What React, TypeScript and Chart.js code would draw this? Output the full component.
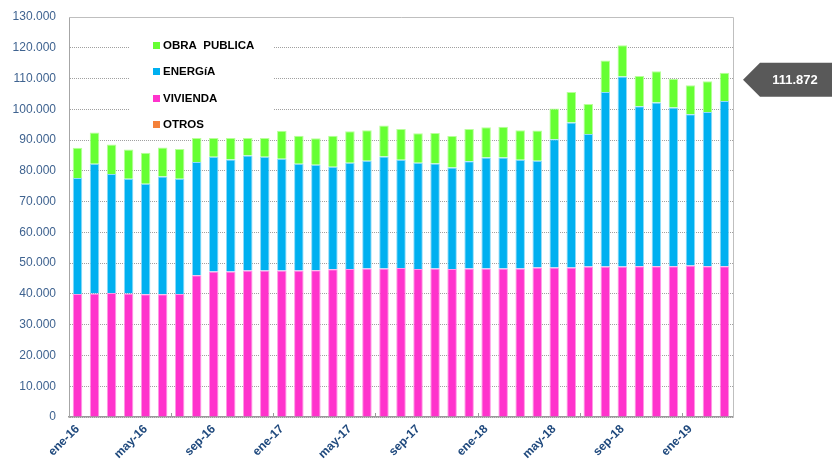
import { useEffect, useRef } from "react";
import { Chart, registerables } from "chart.js";

Chart.register(...registerables);

const categories = [
  "ene-16", "feb-16", "mar-16", "abr-16", "may-16", "jun-16", "jul-16", "ago-16", "sep-16", "oct-16", "nov-16", "dic-16",
  "ene-17", "feb-17", "mar-17", "abr-17", "may-17", "jun-17", "jul-17", "ago-17", "sep-17", "oct-17", "nov-17", "dic-17",
  "ene-18", "feb-18", "mar-18", "abr-18", "may-18", "jun-18", "jul-18", "ago-18", "sep-18", "oct-18", "nov-18", "dic-18",
  "ene-19", "feb-19", "mar-19",
];

const otros = [
  0, 0, 0, 0, 0, 0, 0, 0, 0, 0, 0, 0, 0, 0, 0, 0, 0, 0, 0, 0,
  0, 0, 0, 0, 0, 0, 0, 0, 0, 0, 0, 0, 0, 0, 0, 0, 0, 0, 0,
];

const vivienda = [
  40000, 40100, 40300, 40100, 39900, 39900, 40000, 46100, 47300, 47300,
  47600, 47600, 47600, 47600, 47700, 48000, 48100, 48300, 48300, 48400,
  48100, 48300, 48100, 48300, 48300, 48300, 48300, 48600, 48600, 48600,
  48900, 48900, 48900, 49000, 49000, 49000, 49200, 49000, 49000,
];

const energia = [
  37700, 42200, 38700, 37300, 35900, 38300, 37400, 36800, 37300, 36400,
  37400, 37000, 36300, 34700, 34300, 33300, 34500, 35000, 36400, 35200,
  34500, 34100, 33000, 34800, 36000, 36000, 35300, 34700, 41700, 47100,
  43100, 56700, 61800, 52000, 53200, 51600, 49200, 50100, 53700,
];

const obraPublica = [
  9800, 10200, 9600, 9500, 10100, 9400, 9700, 7800, 6100, 7000,
  5700, 6100, 9100, 9100, 8600, 10100, 10300, 9900, 10000, 10000,
  9600, 9900, 10200, 10500, 9900, 10000, 9600, 9800, 10000, 9900,
  9700, 10300, 10100, 9800, 10200, 9300, 9400, 10000, 9172,
];

const yMax = 130000;
const yStep = 10000;
const labelEvery = 4;
const tickMarkEvery = 6;

const fmt = (n: number) =>
  Math.round(n).toString().replace(/\B(?=(\d{3})+(?!\d))/g, ".");

const decorPlugin = {
  id: "decor",
  beforeDatasetsDraw(chart: any) {
    const { ctx, chartArea: a } = chart;
    ctx.save();
    ctx.strokeStyle = "#BFBFBF";
    ctx.lineWidth = 1;
    ctx.beginPath();
    ctx.moveTo(a.left, a.top + 0.5);
    ctx.lineTo(a.right + 0.5, a.top + 0.5);
    ctx.lineTo(a.right + 0.5, a.bottom);
    ctx.stroke();
    ctx.restore();
  },
  afterDatasetsDraw(chart: any) {
    const { ctx, chartArea: a } = chart;
    const xs = chart.scales.x;
    const ys = chart.scales.y;
    ctx.save();
    // inside tick marks on category axis
    ctx.strokeStyle = "#999999";
    ctx.lineWidth = 1;
    ctx.beginPath();
    for (let i = tickMarkEvery; i < categories.length; i += tickMarkEvery) {
      const px = Math.round((xs.getPixelForValue(i - 1) + xs.getPixelForValue(i)) / 2) + 0.5;
      ctx.moveTo(px, a.bottom);
      ctx.lineTo(px, a.bottom - 4);
    }
    ctx.stroke();

    // legend inside plot area
    ctx.fillStyle = "#FFFFFF";
    ctx.fillRect(a.left + 61, a.top + 13, 144, 103);
    const items = [...chart.data.datasets].reverse();
    ctx.font = "bold 11.5px 'Liberation Sans', Arial, sans-serif";
    ctx.textBaseline = "middle";
    ctx.textAlign = "left";
    items.forEach((ds: any, k: number) => {
      const cy = a.top + 28.3 + k * 26.5;
      ctx.fillStyle = ds.backgroundColor;
      ctx.fillRect(a.left + 84, Math.round(cy - 3.5), 7, 7);
      ctx.fillStyle = "#000000";
      ctx.fillText(ds.label, a.left + 94, cy + 0.5);
    });

    // callout for last total
    const last = categories.length - 1;
    const total = chart.data.datasets.reduce((s: number, ds: any) => s + (ds.data[last] || 0), 0);
    const cy = ys.getPixelForValue(total) + 7;
    const tipX = a.right + 10;
    const h = 17;
    ctx.fillStyle = "#595959";
    ctx.beginPath();
    ctx.moveTo(tipX, cy);
    ctx.lineTo(tipX + 17, cy - h);
    ctx.lineTo(chart.width + 5, cy - h);
    ctx.lineTo(chart.width + 5, cy + h);
    ctx.lineTo(tipX + 17, cy + h);
    ctx.closePath();
    ctx.fill();
    ctx.fillStyle = "#FFFFFF";
    ctx.font = "bold 13px 'Liberation Sans', Arial, sans-serif";
    ctx.textAlign = "center";
    ctx.fillText(fmt(total), tipX + 52, cy + 1);
    ctx.restore();
  },
};

export default function App() {
  const ref = useRef<HTMLCanvasElement | null>(null);

  useEffect(() => {
    if (!ref.current) return;
    const mk = (label: string, data: number[], bg: string, border: string) => ({
      label,
      data,
      backgroundColor: bg,
      borderColor: border,
      borderWidth: 1,
      barPercentage: 0.56,
      categoryPercentage: 1,
    });
    const chart = new Chart(ref.current, {
      type: "bar",
      data: {
        labels: categories,
        datasets: [
          mk("OTROS", otros, "#F4813A", "#F9B98F"),
          mk("VIVIENDA", vivienda, "#FF33CC", "#FF99E6"),
          mk("ENERGíA", energia, "#00B0F0", "#8FDBF8"),
          mk("OBRA  PUBLICA", obraPublica, "#66FF33", "#B8FF99"),
        ] as any,
      },
      options: {
        animation: false,
        responsive: false,
        devicePixelRatio: 1,
        layout: { padding: { left: 0, top: 17, right: 99, bottom: 0 } },
        plugins: {
          legend: { display: false },
          tooltip: { enabled: false },
        },
        scales: {
          x: {
            stacked: true,
            grid: { display: false, drawTicks: false },
            border: { display: true, color: "#999999", width: 1.5 },
            ticks: {
              autoSkip: false,
              minRotation: 45,
              maxRotation: 45,
              padding: 5,
              color: "#1F497D",
              font: { family: "'Liberation Sans', Arial, sans-serif", size: 12, weight: "bold" },
              callback: (_v: any, i: number) => (i % labelEvery === 0 ? categories[i] : ""),
            },
            afterFit: (s: any) => {
              s.height = 43;
            },
          },
          y: {
            stacked: true,
            min: 0,
            max: yMax,
            grid: { color: "#A0A0A0", lineWidth: 1, drawTicks: false },
            border: { display: true, color: "#A6A6A6", width: 1, dash: [1, 1] },
            ticks: {
              stepSize: yStep,
              padding: 13,
              color: "#3F6390",
              font: { family: "'Liberation Sans', Arial, sans-serif", size: 12 },
              callback: (v: any) => fmt(Number(v)),
            },
            afterFit: (s: any) => {
              s.width = 69;
              s.paddingTop = 0;
              s.paddingBottom = 0;
            },
          },
        },
      },
      plugins: [decorPlugin],
    });
    return () => chart.destroy();
  }, []);

  return (
    <div style={{ position: "absolute", left: 0, top: 0, width: 832, height: 460, background: "#fff" }}>
      <canvas ref={ref} width={832} height={460} />
    </div>
  );
}
